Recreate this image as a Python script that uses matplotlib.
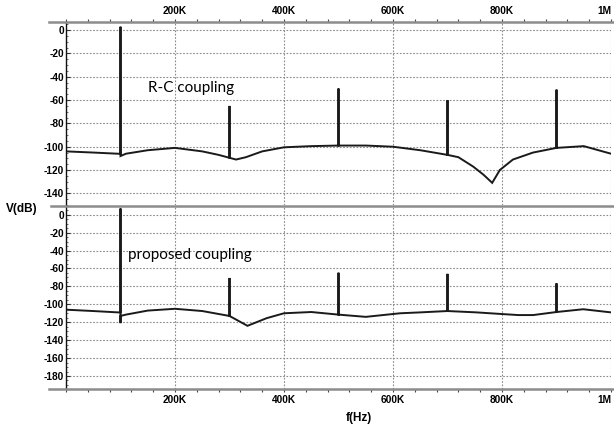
import matplotlib
matplotlib.use('Agg')
import matplotlib.pyplot as plt
from matplotlib.lines import Line2D
from matplotlib.ticker import MultipleLocator, FixedLocator

# frequency points (kHz) and levels (dB)
f_rc = [0, 50, 95, 100, 100, 100, 110, 150, 200, 250, 280, 300, 300, 300, 312, 330, 360, 400, 450,
        500, 500, 500, 550, 600, 650, 700, 700, 700, 720, 747, 766, 782, 796, 820, 857,
        900, 900, 900, 950, 1000]
v_rc = [-104, -105, -106, -106, 3, -108, -106, -103, -101, -104, -107, -109.5, -65, -109.5, -111, -109, -104, -100.5, -99.5,
        -99, -50, -99, -99, -100, -103, -107, -60, -107, -109, -117, -124, -131, -120, -111, -105,
        -101, -51, -101, -99.5, -106]

f_pr = [0, 50, 95, 100, 100, 100, 100, 110, 150, 200, 250, 300, 300, 300, 333, 368, 400, 450,
        500, 500, 500, 550, 613, 650, 700, 700, 700, 753, 796, 830, 857,
        900, 900, 900, 949, 1000]
v_pr = [-106, -107.5, -109, -109, 7, -121, -113, -111.5, -107, -105, -107.5, -113, -70.6, -113, -124, -115.5, -110, -108.6,
        -111.5, -64.7, -111.5, -114, -110, -109, -107.5, -66, -107.5, -109, -110.7, -112, -112,
        -108.6, -76.5, -108.6, -105.5, -109]

xticks_k = [200, 400, 600, 800, 1000]
xlabels = ['200K', '400K', '600K', '800K', '1M']

W, H = 614, 428
fig = plt.figure(figsize=(W / 100, H / 100), dpi=100)

ax1 = fig.add_axes([66 / W, 1 - 205 / H, (611 - 66) / W, (205 - 22) / H])
ax2 = fig.add_axes([66 / W, 1 - 389 / H, (611 - 66) / W, (389 - 206) / H])

tick_font = dict(family='Liberation Sans', weight='bold', size=7.3)

for ax, f, v, ylim, ymin in [(ax1, f_rc, v_rc, (-150, 7), -140), (ax2, f_pr, v_pr, (-194.5, 9.7), -180)]:
    ax.plot(f, v, color='#1a1a1a', lw=1.4, solid_joinstyle='miter')
    ax.set_xlim(0, 1000)
    ax.set_ylim(*ylim)
    for s in ['top', 'bottom', 'right']:
        ax.spines[s].set_visible(False)
    ax.spines['left'].set_color('#111111')
    ax.spines['left'].set_linewidth(1.0)
    ax.xaxis.set_major_locator(FixedLocator(xticks_k))
    ax.xaxis.set_minor_locator(MultipleLocator(40))
    ax.yaxis.set_major_locator(FixedLocator(list(range(0, ymin - 1, -20))))
    ax.yaxis.set_minor_locator(MultipleLocator(5))
    ax.set_yticklabels([str(t) for t in range(0, ymin - 1, -20)], fontdict=tick_font)
    ax.tick_params(axis='y', which='major', direction='in', length=3, width=0.8, pad=1.5, colors='#333333')
    ax.tick_params(axis='y', which='minor', direction='in', length=1.5, width=0.6, colors='#555555')
    ax.tick_params(axis='y', labelcolor='black')
    ax.tick_params(axis='x', which='both', direction='out', length=2.5, width=0.8, colors='#444444')
    ax.grid(True, which='major', color='#8a8a8a', ls=(0, (1.5, 1.5)), lw=0.8)

ax1.xaxis.tick_top()
ax1.xaxis.set_ticks_position('top')
ax1.set_xticklabels(xlabels, fontdict=tick_font)
ax1.tick_params(axis='x', labelcolor='black', pad=1.5)
ax2.set_xticklabels(xlabels, fontdict=tick_font)
ax2.tick_params(axis='x', labelcolor='black', pad=2)

# the last label sits flush with the right edge
for ax in (ax1, ax2):
    ax.get_xticklabels()[-1].set_horizontalalignment('right')
    ax.get_xticklabels()[-1].set_x(1003)

# grey frame lines that run past the left axis
for y, x0 in [(22, 49), (205.5, 51), (389, 49)]:
    fig.add_artist(Line2D([x0 / W, 1.0], [1 - y / H, 1 - y / H], transform=fig.transFigure,
                          color='#8c8c8c', lw=1.8))

ax1.text(148 / W, 1 - 88 / H, 'R-C coupling', transform=fig.transFigure, family='Lato',
         fontsize=11, va='center', ha='left', color='black')
ax2.text(128 / W, 1 - 255 / H, 'proposed coupling', transform=fig.transFigure, family='Lato',
         fontsize=11, va='center', ha='left', color='black')

fig.text(22 / W, 1 - 209 / H, 'V(dB)', family='Liberation Sans', weight='bold', fontsize=8.5,
         ha='center', va='center')
fig.text(359 / W, 1 - 418 / H, 'f(Hz)', family='Liberation Sans', weight='bold', fontsize=8.5,
         ha='center', va='center')

fig.savefig('out.png', dpi=100)
